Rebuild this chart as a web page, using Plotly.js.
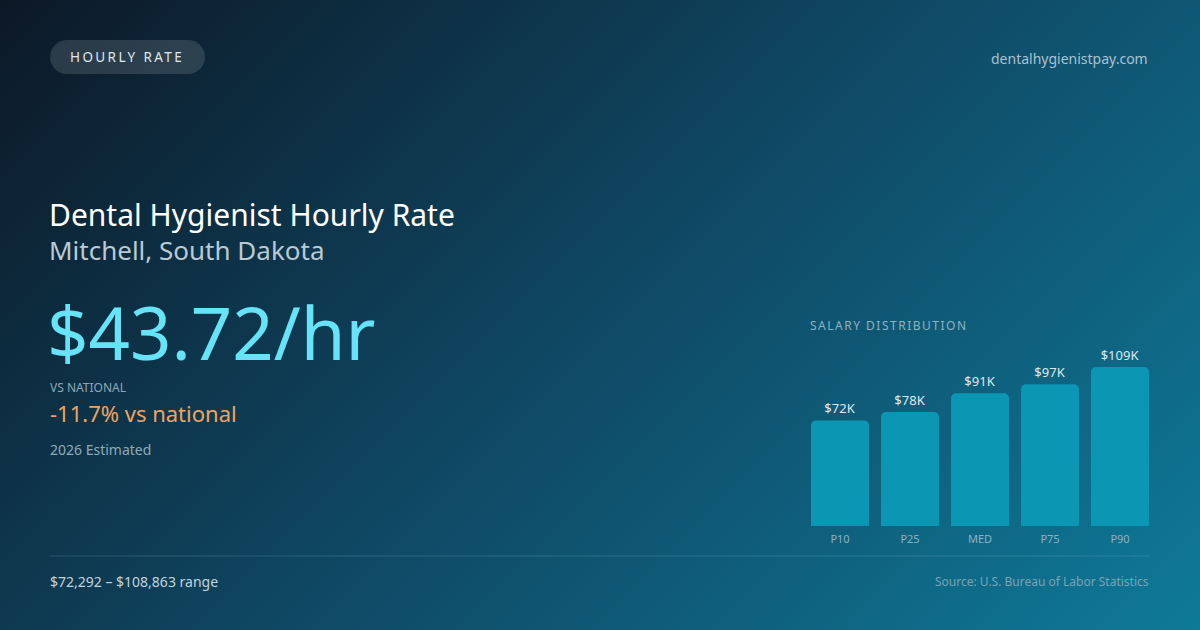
<!DOCTYPE html>
<html>
<head>
<meta charset="utf-8">
<script src="https://cdn.plot.ly/plotly-3.0.1.min.js"></script>
<style>
  html, body { margin:0; padding:0; width:1200px; height:630px; overflow:hidden; }
  body { background: linear-gradient(135deg, #0c1826 0%, #0f4a66 52%, #0e7a98 100%); }
  #chart { width:1200px; height:630px; }
  .annotation[data-index="0"] .annotation-text { letter-spacing: 2.4px; }
  .annotation[data-index="9"] .annotation-text { letter-spacing: 1.5px; }
</style>
</head>
<body>
<div id="chart"></div>
<script>
const percentiles = ["P10", "P25", "MED", "P75", "P90"];
const salaries = [72292, 78000, 90938, 97000, 108863];
const barLabels = salaries.map(v => "$" + Math.round(v / 1000) + "K");

const W = 1200, H = 630;
const px = x => x / W;
const py = y => 1 - y / H;
const font = '"Noto Sans", "Open Sans", sans-serif';

const trace = {
  type: "bar",
  x: percentiles,
  y: salaries,
  text: barLabels,
  texttemplate: "%{text}",
  textposition: "outside",
  cliponaxis: false,
  textfont: { family: font, size: 13, color: "#dfe9ef" },
  marker: { color: "#0b97b4", cornerradius: 5 },
  hoverinfo: "skip"
};

function ann(text, x, y, size, color, opts) {
  return Object.assign({
    text: text, x: px(x), y: py(y), xref: "paper", yref: "paper",
    xanchor: "left", yanchor: "middle", align: "left", showarrow: false,
    font: { family: font, size: size, color: color }
  }, opts || {});
}

const annotations = [
  ann("HOURLY RATE", 68, 57, 13.5, "#dfe7ec"),
  ann("dentalhygienistpay.com", 1150, 58, 14, "#a9c2cf", { xanchor: "right", align: "right" }),
  ann("Dental Hygienist Hourly Rate", 47, 214, 30, "#ffffff"),
  ann("Mitchell, South Dakota", 47, 250, 26, "#b9cad4"),
  ann("$43.72/hr", 45, 331, 72.5, "#67e3f7"),
  ann("VS NATIONAL", 48, 387, 12, "#8ea8b7"),
  ann("-11.7% vs national", 48, 413, 22, "#eea461"),
  ann("2026 Estimated", 48, 449, 14, "#8eabb9"),
  ann("$72,292 – $108,863 range", 48, 581, 14, "#c3d3db"),
  ann("SALARY DISTRIBUTION", 808, 325, 12, "#8eb2c3"),
  ann("Source: U.S. Bureau of Labor Statistics", 1151, 581, 12, "#7aa3b6", { xanchor: "right", align: "right" })
];

const shapes = [
  {
    type: "path", xref: "paper", yref: "paper",
    xsizemode: "pixel", ysizemode: "pixel",
    xanchor: px(50), yanchor: py(57),
    path: "M 17,-17 L 138,-17 C 147.4,-17 155,-9.4 155,0 C 155,9.4 147.4,17 138,17 L 17,17 C 7.6,17 0,9.4 0,0 C 0,-9.4 7.6,-17 17,-17 Z",
    fillcolor: "rgba(255,255,255,0.13)", line: { width: 0 }, layer: "below"
  },
  {
    type: "line", xref: "paper", yref: "paper",
    x0: px(50), x1: px(1150), y0: py(556), y1: py(556),
    line: { color: "rgba(140,200,220,0.22)", width: 1 }
  }
];

const layout = {
  width: W, height: H,
  margin: { l: 0, r: 0, t: 0, b: 0, pad: 0 },
  paper_bgcolor: "rgba(0,0,0,0)",
  plot_bgcolor: "rgba(0,0,0,0)",
  showlegend: false,
  bargap: 12 / 70,
  xaxis: {
    domain: [px(805), px(1155)],
    type: "category",
    showgrid: false, zeroline: false, showline: false,
    ticks: "", ticklen: 0,
    ticklabelstandoff: 5,
    tickfont: { family: font, size: 11, color: "#8fb1c1" },
    fixedrange: true
  },
  yaxis: {
    domain: [py(526), py(367)],
    range: [0, 108863],
    visible: false,
    fixedrange: true
  },
  annotations: annotations,
  shapes: shapes,
  font: { family: font }
};

Plotly.newPlot("chart", [trace], layout, { displayModeBar: false, staticPlot: true });
</script>
</body>
</html>
